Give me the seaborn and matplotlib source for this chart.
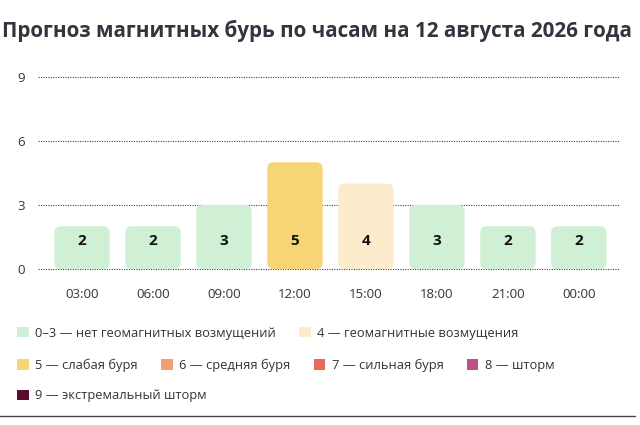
import pandas as pd
import matplotlib
matplotlib.use("Agg")
import matplotlib.pyplot as plt
import seaborn as sns
from matplotlib.patches import FancyBboxPatch, Patch
from matplotlib.lines import Line2D

hours = ["03:00", "06:00", "09:00", "12:00", "15:00", "18:00", "21:00", "00:00"]
kp = [2, 2, 3, 5, 4, 3, 2, 2]
y_ticks = [0, 3, 6, 9]

level_colors = {
    "0-3": "#d0f0d5",
    "4": "#fdeccb",
    "5": "#f7d476",
    "6": "#f29f70",
    "7": "#e8685d",
    "8": "#c04f88",
    "9": "#5b0c2c",
}
legend_rows = [
    [("0-3", "0–3 — нет геомагнитных возмущений"), ("4", "4 — геомагнитные возмущения")],
    [("5", "5 — слабая буря"), ("6", "6 — средняя буря"), ("7", "7 — сильная буря"), ("8", "8 — шторм")],
    [("9", "9 — экстремальный шторм")],
]
title = "Прогноз магнитных бурь по часам на 12 августа 2026 года"


def kp_color(v):
    if v <= 3:
        return level_colors["0-3"]
    return level_colors[str(v)]


df = pd.DataFrame({"hour": hours, "kp": kp})

sns.set_theme(style="white")
plt.rcParams["font.family"] = ["Open Sans", "DejaVu Sans"]

fig = plt.figure(figsize=(6.4, 4.25), dpi=100)
# y range -0.1..9.1 -> 0 at px 269, 9 at px 77
ax = fig.add_axes([38 / 640, 1 - 271.1 / 425, 582 / 640, 196.3 / 425])

sns.barplot(data=df, x="hour", y="kp", hue="hour", palette=[kp_color(v) for v in kp],
            legend=False, width=0.78, ax=ax, saturation=1)

# swap plain bars for rounded ones
for p in list(ax.patches):
    x0, y0 = p.get_x(), p.get_y()
    w, h = p.get_width(), p.get_height()
    rb = FancyBboxPatch((x0, y0), w, h, boxstyle="round,pad=0,rounding_size=0.09",
                        mutation_aspect=3.3, facecolor=p.get_facecolor(),
                        edgecolor="none", zorder=2)
    p.remove()
    ax.add_patch(rb)

for i, v in enumerate(kp):
    ax.text(i, 1.3, str(v), ha="center", va="center", fontsize=11,
            fontweight="bold", color="#111111", zorder=3)

ax.set_xlim(-0.62, 7.58)
ax.set_ylim(-0.1, 9.1)
ax.set_yticks(y_ticks)
for t in y_ticks:
    ax.axhline(t, color="#444444", lw=0.8, ls=(0, (1, 1.2)), zorder=1.5)
ax.set_xlabel("")
ax.set_ylabel("")
for s in ax.spines.values():
    s.set_visible(False)
ax.tick_params(axis="x", length=0, pad=12, labelsize=9.5, labelcolor="#333333")
ax.tick_params(axis="y", length=0, pad=15, labelsize=9.5, labelcolor="#333333")
for lbl in ax.get_yticklabels():
    lbl.set_horizontalalignment("left")

fig.text(2 / 640, 1 - 31 / 425, title, fontsize=14.9, fontweight="bold",
         color="#34343f", ha="left", va="center")

row_y = [333, 365, 396]
for row, yy in zip(legend_rows, row_y):
    handles = [Patch(facecolor=level_colors[k], edgecolor="none", label=t) for k, t in row]
    fig.legend(handles=handles, loc="center left", bbox_to_anchor=(17 / 640, 1 - yy / 425),
               ncol=len(handles), frameon=False, fontsize=9.3, handlelength=0.9,
               handleheight=0.9, handletextpad=0.5, columnspacing=1.8,
               labelcolor="#333333", borderaxespad=0, borderpad=0)

fig.add_artist(Line2D([0, 635 / 640], [1 - 416 / 425] * 2, color="#444444", lw=1))

fig.savefig("out.png", dpi=100)
